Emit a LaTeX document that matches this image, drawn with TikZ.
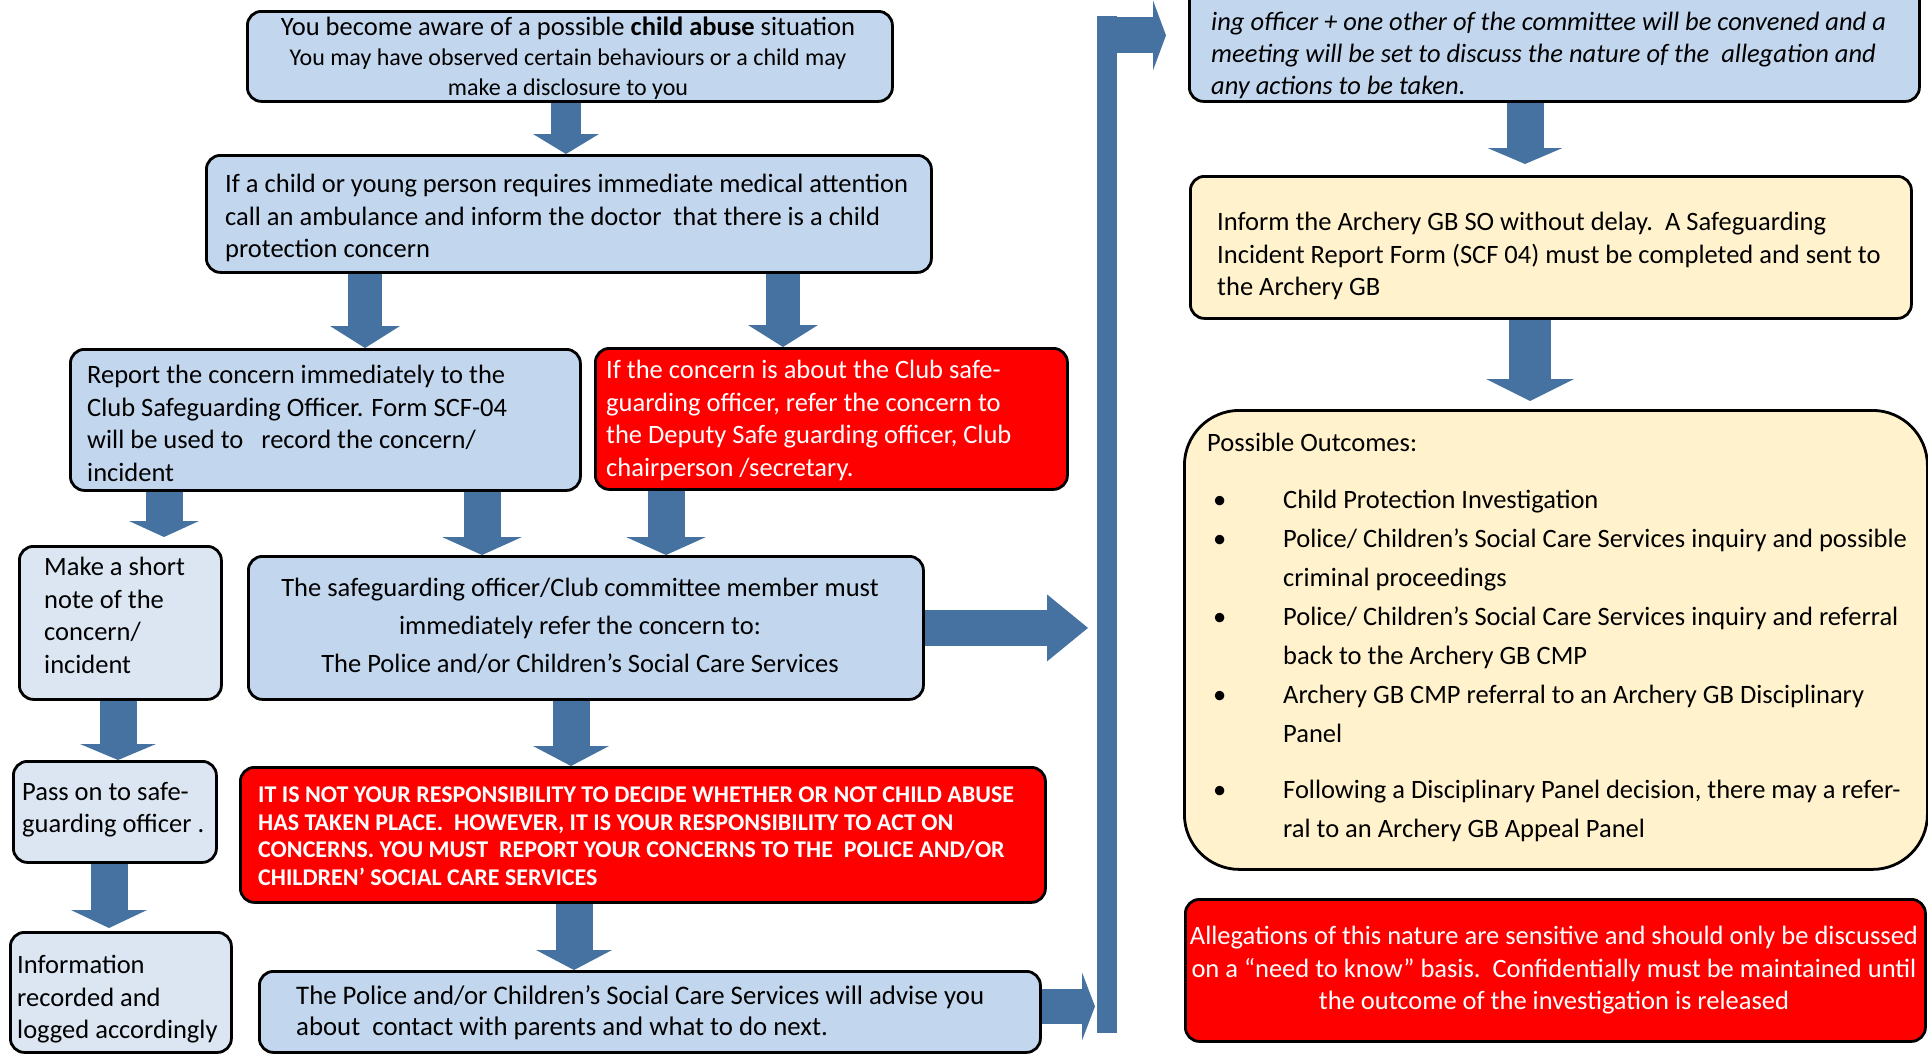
\documentclass[tikz,border=0pt]{standalone}
\usepackage{fontspec}
\setmainfont{Carlito}
\usetikzlibrary{arrows.meta}
\definecolor{boxblue}{RGB}{194,214,238}
\definecolor{paleblue}{RGB}{220,230,242}
\definecolor{cream}{RGB}{255,242,204}
\definecolor{boxred}{RGB}{255,0,0}
\definecolor{arrowblue}{RGB}{69,114,160}
\pgfdeclarelayer{bg}
\pgfsetlayers{bg,main}
\tikzset{
  box/.style={draw=black, line width=2.8pt, rounded corners=14pt, inner sep=0pt, anchor=north west},
  bluebox/.style={box, fill=boxblue},
  palebox/.style={box, fill=paleblue},
  redbox/.style={box, fill=boxred},
  creambox/.style={box, fill=cream},
  txt/.style={inner sep=0pt, anchor=north west, align=left,
    font=\fontsize{26.5pt}{32.5pt}\selectfont,
    execute at begin node={\rule{0pt}{20pt}}},
  blk/.style args={#1/#2/#3}{draw=arrowblue, line width=#1pt,
    -{Triangle[width=#2pt,length=#3pt,line width=0pt]}},
}
\newcommand\smallln{\fontsize{24pt}{30pt}\selectfont}
\begin{document}
\begin{tikzpicture}[x=1pt,y=-1pt]
\useasboundingbox (0,0) rectangle (1928,1053);

% boxes
\node[bluebox, minimum width=645pt, minimum height=90pt] (A) at (246,10) {};
\node[bluebox, minimum width=725pt, minimum height=117pt] (B) at (205,154) {};
\node[bluebox, minimum width=510pt, minimum height=141pt] (C) at (69,348) {};
\node[redbox, minimum width=472pt, minimum height=141pt] (D) at (594,347) {};
\node[palebox, minimum width=202pt, minimum height=153pt] (E) at (18,545) {};
\node[bluebox, minimum width=675pt, minimum height=143pt] (F) at (247,555) {};
\node[palebox, minimum width=203pt, minimum height=101pt] (G) at (12,760) {};
\node[palebox, minimum width=221pt, minimum height=120pt] (H) at (9,931) {};
\node[redbox, minimum width=805pt, minimum height=135pt] (I) at (239,766) {};
\node[bluebox, minimum width=781pt, minimum height=81pt] (J) at (258,970) {};
\node[bluebox, minimum width=730pt, minimum height=132pt] (K) at (1188,-32) {};
\node[creambox, minimum width=721pt, minimum height=142pt] (L) at (1189,175) {};
\node[creambox, rounded corners=55pt, minimum width=743pt, minimum height=459pt] (M) at (1183,409) {};
\node[redbox, minimum width=740pt, minimum height=142pt] (N) at (1184,898) {};
\node[fill=arrowblue, inner sep=0pt, anchor=north west, minimum width=20pt, minimum height=1017pt] (bar) at (1097,16) {};
\coordinate (Jout) at ([yshift=5.5pt]J.east);

% texts
\node[txt, anchor=north, align=center, font=\fontsize{26.5pt}{30pt}\selectfont] (tA) at (568,17)
  {You become aware of a possible \textbf{child abuse} situation\\{\smallln You may have observed certain behaviours or a child may}\\{\smallln make a disclosure to you}};
\node[txt] (tB) at (225,174)
  {If a child or young person requires immediate medical attention\\call an ambulance and inform the doctor\ \ that there is a child\\protection concern};
\node[txt] (tC) at (87,365)
  {Report the concern immediately to the\\Club Safeguarding Officer. Form SCF-04\\will be used to \ \ record the concern/\\incident};
\node[txt, text=white] (tD) at (606,360)
  {If the concern is about the Club safe-\\guarding officer, refer the concern to\\the Deputy Safe guarding officer, Club\\chairperson /secretary.};
\node[txt] (tE) at (44,557)
  {Make a short\\note of the\\concern/\\incident};
\node[txt, anchor=north, align=center, font=\fontsize{26.5pt}{38pt}\selectfont] (tF) at (580,578)
  {The safeguarding officer/Club committee member must\\immediately refer the concern to:\\The Police and/or Children’s Social Care Services};
\node[txt] (tG) at (22,782)
  {Pass on to safe-\\guarding officer .};
\node[txt] (tH) at (17,955)
  {Information\\recorded and\\logged accordingly};
\node[txt, text=white, font=\fontsize{24pt}{27.5pt}\selectfont\bfseries] (tI) at (258,787)
  {IT IS NOT YOUR RESPONSIBILITY TO DECIDE WHETHER OR NOT CHILD ABUSE\\HAS TAKEN PLACE.\ \ HOWEVER, IT IS YOUR RESPONSIBILITY TO ACT ON\\CONCERNS. YOU MUST\ \ REPORT YOUR CONCERNS TO THE\ \ POLICE AND/OR\\CHILDREN’ SOCIAL CARE SERVICES};
\node[txt, font=\fontsize{26.8pt}{31pt}\selectfont] (tJ) at (296,985)
  {The Police and/or Children’s Social Care Services will advise you\\about\ \ contact with parents and what to do next.};
\node[txt, font=\fontsize{26.5pt}{32pt}\selectfont\itshape] (tK) at (1211,12)
  {ing officer + one other of the committee will be convened and a\\meeting will be set to discuss the nature of the\ \ allegation and\\any actions to be taken.};
\node[txt] (tL) at (1217,212)
  {Inform the Archery GB SO without delay.\ \ A Safeguarding\\Incident Report Form (SCF 04) must be completed and sent to\\the Archery GB};
\node[txt] (tM) at (1207,431) {Possible Outcomes:};
\node[anchor=north west, inner sep=0pt, font=\fontsize{26.5pt}{39pt}\selectfont] (tMitems) at (1213,481)
  {\begin{tabular}{@{}p{70pt}@{}l@{}}
  • & Child Protection Investigation\\
  • & Police/ Children’s Social Care Services inquiry and possible\\
    & criminal proceedings\\
  • & Police/ Children’s Social Care Services inquiry and referral\\
    & back to the Archery GB CMP\\
  • & Archery GB CMP referral to an Archery GB Disciplinary\\
    & Panel\\[17pt]
  • & Following a Disciplinary Panel decision, there may a refer-\\
    & ral to an Archery GB Appeal Panel
  \end{tabular}};
\node[txt, anchor=north, align=center, text=white] (tN) at (1554,926)
  {Allegations of this nature are sensitive and should only be discussed\\on a “need to know” basis.\ \ Confidentially must be maintained until\\the outcome of the investigation is released};

% block arrows (behind boxes)
\begin{pgfonlayer}{bg}
\draw[blk=30/66/20] (566,0 |- A.south) -- (566,0 |- B.north);
\draw[blk=34/70/22] (365,0 |- B.south) -- (365,0 |- C.north);
\draw[blk=34/70/22] (783,0 |- B.south) -- (783,0 |- D.north);
\draw[blk=37/70/16, shorten >=8pt] (164,0 |- C.south) -- (164,0 |- E.north);
\draw[blk=37/80/18] (482,0 |- C.south) -- (482,0 |- F.north);
\draw[blk=37/80/18] (666,0 |- D.south) -- (666,0 |- F.north);
\draw[blk=37/76/16] (118,0 |- E.south) -- (118,0 |- G.north);
\draw[blk=37/76/18, shorten >=3pt] (109,0 |- G.south) -- (109,0 |- H.north);
\draw[blk=37/76/20] (571,0 |- F.south) -- (571,0 |- I.north);
\draw[blk=37/76/20] (574,0 |- I.south) -- (574,0 |- J.north);
\draw[blk=36/67/41, shorten >=9pt] (F.east) -- (bar.west |- F.east);
\draw[blk=35/68/13, shorten >=2pt] (Jout) -- (bar.west |- Jout);
\draw[blk=36/70/13, shorten >=22pt] (bar.north west |- K.west) -- (K.west);
\draw[blk=37/75/16, shorten >=11pt] (1525,0 |- K.south) -- (1525,0 |- L.north);
\draw[blk=42/88/22, shorten >=8pt] (1530,0 |- L.south) -- (1530,0 |- M.north);
\end{pgfonlayer}
\end{tikzpicture}
\end{document}
